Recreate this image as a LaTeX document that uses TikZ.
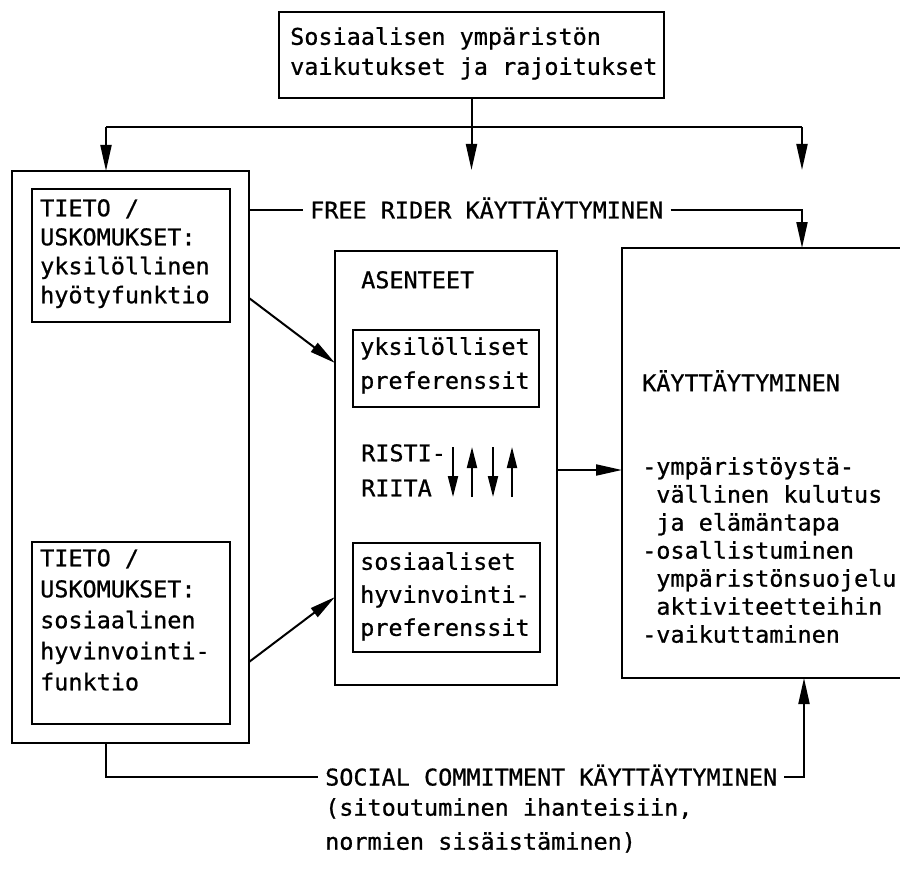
\documentclass[tikz,border=0pt]{standalone}
\usepackage{fontspec}
\newfontfamily\tw[FakeStretch=1.02,FakeBold=0.8]{DejaVu Sans Mono}
\usetikzlibrary{arrows.meta}
\begin{document}
\begin{tikzpicture}[x=1pt,y=-1pt,
  frame/.style={draw, line width=2.2pt, rectangle, inner sep=0pt, outer sep=0pt},
  tx/.style={font=\tw\fontsize{23}{#1}\selectfont, align=left, inner sep=0pt,
             anchor=north west, execute at begin node={\rule{0pt}{22pt}}},
  tx/.default=29,
  lab/.style={font=\tw\fontsize{23}{26}\selectfont, inner xsep=7pt, inner ysep=0pt,
              text height=17pt, text depth=0pt, anchor=west},
  conn/.style={line width=2pt},
  arr/.style={conn, -{Triangle[length=26pt,width=11pt]}},
  arrs/.style={line width=2pt, -{Triangle[length=21pt,width=10pt]}}
]
\useasboundingbox (0,0) rectangle (900,888);
\clip (0,0) rectangle (900,888);

% source box
\node[frame, minimum width=385pt, minimum height=86pt] (src) at (471.5,55) {};
\node[tx=30] (srcT) at (290,27) {Sosiaalisen ympäristön\\vaikutukset ja rajoitukset};

% knowledge / beliefs column
\node[frame, minimum width=237pt, minimum height=572pt] (outer) at (130.5,457) {};
\node[frame, minimum width=198pt, minimum height=133pt] (inA) at (131,255.5) {};
\node[tx] (tA) at (40,199) {TIETO /\\USKOMUKSET:\\yksilöllinen\\hyötyfunktio};
\node[frame, minimum width=198pt, minimum height=182pt] (inB) at (131,633) {};
\node[tx=31] (tB) at (40,549) {TIETO /\\USKOMUKSET:\\sosiaalinen\\hyvinvointi-\\funktio};

% attitudes column
\node[frame, minimum width=222pt, minimum height=434pt] (mid) at (446,468) {};
\node[tx] (asT) at (361,266) {ASENTEET};
\node[frame, minimum width=186pt, minimum height=77pt] (pA) at (446,368.5) {};
\node[tx=34] (pAT) at (360,337) {yksilölliset\\preferenssit};
\node[tx=35] (rist) at (361,444) {RISTI-\\RIITA};
\node[frame, minimum width=187pt, minimum height=109pt] (pB) at (446.5,597.5) {};
\node[tx=33] (pBT) at (360,552) {sosiaaliset\\hyvinvointi-\\preferenssit};

% conflict arrows
\draw[arrs] (453,447) -- (453,497);
\draw[arrs] (472,497) -- (472,447);
\draw[arrs] (493,447) -- (493,497);
\draw[arrs] (512,497) -- (512,447);

% behaviour box (runs past the right edge)
\node[frame, minimum width=338pt, minimum height=430pt] (kay) at (791,463) {};
\node[tx] (kayT) at (642,369) {KÄYTTÄYTYMINEN};
\node[tx=28] (kayL) at (642,457) {-ympäristöystä-\\\phantom{-}vällinen kulutus\\\phantom{-}ja elämäntapa\\-osallistuminen\\\phantom{-}ympäristönsuojelu-\\\phantom{-}aktiviteetteihin\\-vaikuttaminen};

% distribution bus from the source box
\coordinate (busL) at (106,127);
\coordinate (busR) at (802,127);
\coordinate (busM) at (src.south |- busL);
\coordinate (midTip) at ([yshift=-43pt]busM);
\coordinate (rightTip) at ([yshift=-43pt]busR);
\draw[conn] (src.south) -- (busM);
\draw[conn] (busL) -- (busR);
\draw[arr] (busL) -- (busL |- outer.north);
\draw[arr] (busM) -- (midTip);
\draw[arr] (busR) -- (rightTip);

% free rider path
\node[lab] (free) at (303,210) {FREE RIDER KÄYTTÄYTYMINEN};
\coordinate (fx) at (802,0);
\draw[conn] (outer.east |- free.west) -- (free.west);
\draw[arr] (free.east) -| (fx |- kay.north);

% beliefs to attitudes
\coordinate (yA1) at (0,298);
\coordinate (yA2) at (0,363);
\coordinate (yB1) at (0,662);
\coordinate (yB2) at (0,597);
\draw[arr] (outer.east |- yA1) -- (mid.west |- yA2);
\draw[arr] (outer.east |- yB1) -- (mid.west |- yB2);

% attitudes to behaviour
\coordinate (yM) at (0,470);
\draw[arr] (mid.east |- yM) -- (kay.west |- yM);

% social commitment path
\node[lab] (soc) at (318,777) {SOCIAL COMMITMENT KÄYTTÄYTYMINEN};
\node[tx=34] (note) at (325,798) {(sitoutuminen ihanteisiin,\\normien sisäistäminen)};
\coordinate (sx) at (804,0);
\draw[conn] (busL |- outer.south) |- (soc.west);
\draw[arr] (soc.east) -| (sx |- kay.south);
\end{tikzpicture}
\end{document}
